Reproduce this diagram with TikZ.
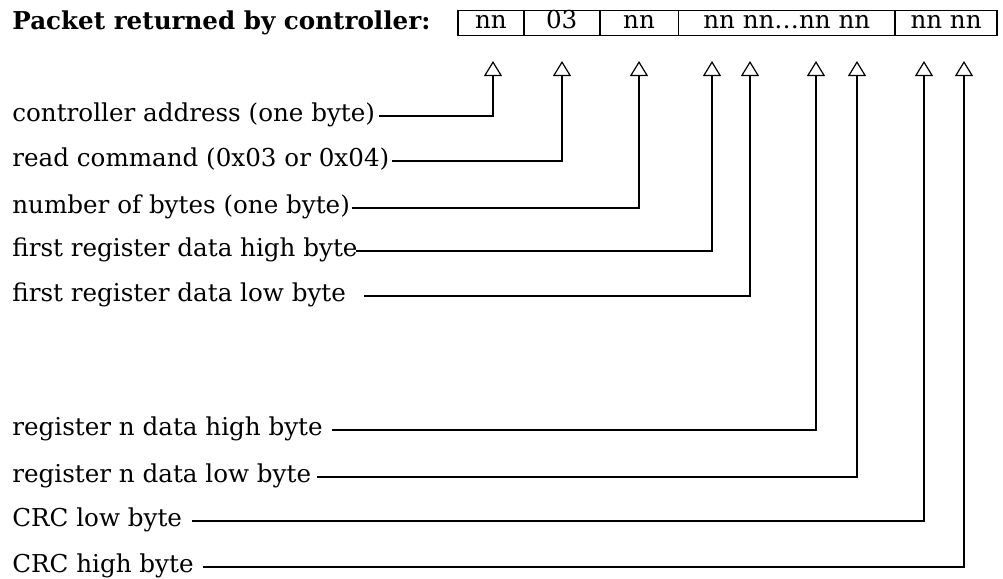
\documentclass[tikz,border=0pt]{standalone}
\usepackage{fontspec}
\setmainfont{DejaVu Serif}
\usetikzlibrary{arrows.meta,positioning}

\begin{document}
\begin{tikzpicture}[x=0.5pt, y=-0.5pt,
    cell/.style={draw, inner sep=0pt, minimum height=12.5pt, text height=0.7em, text depth=0.15em, font=\fontsize{12.3}{14}\selectfont},
    lbl/.style={anchor=west, inner sep=0pt, text height=0.75em, text depth=0.2em, font=\fontsize{12.3}{14}\selectfont},
    arr/.style={-{Triangle[open, width=9pt, length=7.5pt]}, line width=0.6pt}
  ]
    \useasboundingbox (0,0) rectangle (1003,579);
    \node[anchor=base west, inner sep=0pt, font=\fontsize{12.3}{14}\selectfont\bfseries] (title) at (12,29) {Packet returned by controller:};
    % packet fields
    \node[cell, anchor=north west, minimum width=32.5pt] (addr) at (458,10) {nn};
    \node[cell, right=0pt of addr, minimum width=37.5pt] (cmd) {03};
    \node[cell, right=0pt of cmd, minimum width=39pt] (count) {nn};
    \node[cell, right=0pt of count, minimum width=108pt] (data) {nn nn…nn nn};
    \node[cell, right=0pt of data, minimum width=50.5pt] (crc) {nn nn};
    \draw[line width=1.1pt] (addr.north west) -- (addr.south west);
    \draw[line width=1.1pt] (crc.north east) -- (crc.south east);
    % arrow heads under the fields
    \coordinate (tAddr) at (493,61);
    \coordinate (tCmd) at (562,61);
    \coordinate (tCount) at (639,61);
    \coordinate (tHi1) at (712,61);
    \coordinate (tLo1) at (750,61);
    \coordinate (tHiN) at (816,61);
    \coordinate (tLoN) at (857,61);
    \coordinate (tCrcLo) at (924,61);
    \coordinate (tCrcHi) at (964,61);
    % descriptions
    \node[lbl] (lAddr) at (12,116) {controller address (one byte)};
    \node[lbl] (lCmd) at (12,161) {read command (0x03 or 0x04)};
    \node[lbl] (lCount) at (12,208) {number of bytes (one byte)};
    \node[lbl] (lHi1) at (12,251) {first register data high byte};
    \node[lbl] (lLo1) at (12,296) {first register data low byte};
    \node[lbl] (lHiN) at (12,430) {register n data high byte};
    \node[lbl] (lLoN) at (12,477) {register n data low byte};
    \node[lbl] (lCrcLo) at (12,521) {CRC low byte};
    \node[lbl] (lCrcHi) at (12,567) {CRC high byte};
    \draw[arr] ([xshift=2pt]lAddr.east) -| (tAddr);
    \draw[arr] ([xshift=1pt]lCmd.east) -| (tCmd);
    \draw[arr] ([xshift=1pt]lCount.east) -| (tCount);
    \draw[arr] ([xshift=-1pt]lHi1.east) -| (tHi1);
    \draw[arr] ([xshift=9pt]lLo1.east) -| (tLo1);
    \draw[arr] ([xshift=4.5pt]lHiN.east) -| (tHiN);
    \draw[arr] ([xshift=3pt]lLoN.east) -| (tLoN);
    \draw[arr] ([xshift=5pt]lCrcLo.east) -| (tCrcLo);
    \draw[arr] ([xshift=4.5pt]lCrcHi.east) -| (tCrcHi);
  \end{tikzpicture}
\end{document}
